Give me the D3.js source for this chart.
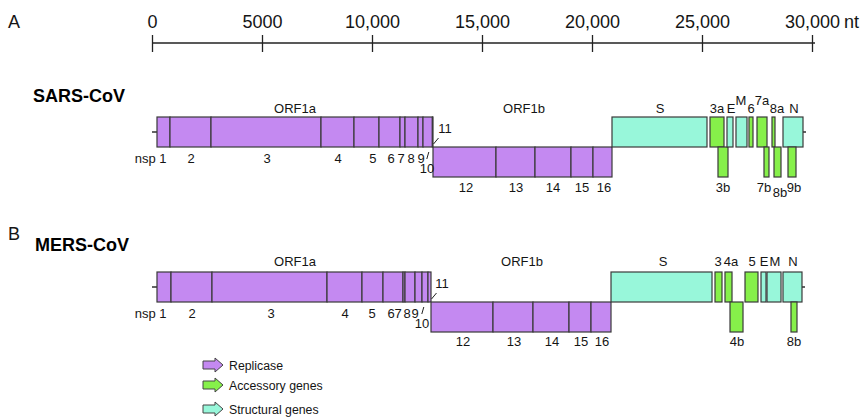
<!DOCTYPE html>
<html><head><meta charset="utf-8">
<script src="https://cdn.jsdelivr.net/npm/d3@7"></script>
<style>
body{margin:0;background:#fff}
svg{display:block;font-family:"Liberation Sans",Arial,Helvetica,sans-serif}
</style>
</head><body>
<svg id="chart" width="863" height="417"></svg>
<script>
// ---------- data (nucleotide coordinates) ----------
const tickValues = [0, 5000, 10000, 15000, 20000, 25000, 30000];
const tickLabels = ["0", "5000", "10,000", "15,000", "20,000", "25,000", "30,000"];
const axisUnit = "nt";

// [nsp, start, end, labelAt]
const sarsORF1a = [
  ["1", 227, 818, 500], ["2", 818, 2682, 1773], ["3", 2682, 7682, 5227],
  ["4", 7682, 9182, 8455], ["5", 9182, 10318, 10045], ["6", 10318, 11273, 10864],
  ["7", 11273, 11500, 11318], ["8", 11500, 12091, 11773], ["9", 12091, 12318, 12227],
  ["10", 12318, 12745, 12500], ["11", 12745, 12773, 13318]
];
const sarsORF1b = [
  ["12", 12773, 15636, 14273], ["13", 15636, 17409, 16545], ["14", 17409, 19045, 18227],
  ["15", 19045, 20045, 19545], ["16", 20045, 20909, 20545]
];
// [gene, start, end, kind, row(0 upper / 1 lower), labelAt, labelShift]
const sarsGenes = [
  ["S", 20909, 25227, "structural", 0, 23091, 0],
  ["3a", 25364, 26000, "accessory", 0, 25682, 0],
  ["3b", 25727, 26182, "accessory", 1, 25955, 0],
  ["E", 26136, 26409, "structural", 0, 26318, 0],
  ["M", 26545, 27045, "structural", 0, 26773, -1],
  ["6", 27136, 27318, "accessory", 0, 27227, 0],
  ["7a", 27500, 27955, "accessory", 0, 27727, -1],
  ["7b", 27818, 28045, "accessory", 1, 27818, 0],
  ["8a", 28182, 28318, "accessory", 0, 28409, 0],
  ["8b", 28273, 28591, "accessory", 1, 28545, 1],
  ["N", 28682, 29591, "structural", 0, 29182, 0],
  ["9b", 28909, 29273, "accessory", 1, 29182, 0]
];
const sarsGenomeEnd = 29727;
const sarsORFLabels = [["ORF1a", 6500], ["ORF1b", 16909]];

const mersORF1a = [
  ["1", 227, 864, 500], ["2", 864, 2727, 1818], ["3", 2727, 7955, 5409],
  ["4", 7955, 9545, 8773], ["5", 9545, 10500, 10000], ["6", 10500, 11409, 10864],
  ["7", 11409, 11500, 11182], ["8", 11500, 11955, 11591], ["9", 11955, 12273, 11955],
  ["10", 12273, 12545, 12273], ["11", 12545, 12682, 13182]
];
const mersORF1b = [
  ["12", 12682, 15500, 14136], ["13", 15500, 17318, 16455], ["14", 17318, 18955, 18182],
  ["15", 18955, 19955, 19500], ["16", 19955, 20864, 20455]
];
const mersGenes = [
  ["S", 20864, 25455, "structural", 0, 23227, 0],
  ["3", 25591, 25909, "accessory", 0, 25727, 0],
  ["4a", 26045, 26364, "accessory", 0, 26318, 0],
  ["4b", 26273, 26864, "accessory", 1, 26591, 0],
  ["5", 26955, 27545, "accessory", 0, 27273, 0],
  ["E", 27682, 27909, "structural", 0, 27818, 0],
  ["M", 27955, 28591, "structural", 0, 28318, 0],
  ["N", 28682, 29545, "structural", 0, 29136, 0],
  ["8b", 29045, 29318, "accessory", 1, 29182, 0]
];
const mersGenomeEnd = 29682;
const mersORFLabels = [["ORF1a", 6500], ["ORF1b", 16818]];

const legendKinds = ["replicase", "accessory", "structural"];
const legendLabels = ["Replicase", "Accessory genes", "Structural genes"];

// ---------- drawing ----------
const svg = d3.select("#chart");
const x = d3.scaleLinear().domain([0, 30000]).range([152, 812]);
const color = d3.scaleOrdinal()
  .domain(["replicase", "accessory", "structural"])
  .range(["#c489f1", "#86f04a", "#98f7da"]);
const STROKE = "#3a3a3a";
const TXT = "#151515";

// panel letters
svg.append("text").attr("x", 8).attr("y", 28).attr("font-size", 18).attr("fill", TXT).text("A");
svg.append("text").attr("x", 8).attr("y", 240).attr("font-size", 18).attr("fill", TXT).text("B");

// scale axis
const axis = d3.axisTop(x).tickValues(tickValues)
  .tickFormat((d, i) => tickLabels[i])
  .tickSizeInner(-17).tickSizeOuter(0).tickPadding(7);
const ag = svg.append("g").attr("transform", "translate(0,35)").call(axis);
ag.select(".domain").remove();
ag.selectAll(".tick line").attr("stroke", "#222").attr("stroke-width", 1.3);
ag.selectAll(".tick text").attr("font-size", 18).attr("fill", TXT)
  .attr("font-family", '"Liberation Sans",Arial,sans-serif');
svg.append("line").attr("x1", x(0)).attr("x2", x(30000) + 3)
  .attr("y1", 43).attr("y2", 43).attr("stroke", "#222").attr("stroke-width", 1.6);
svg.append("text").attr("x", x(30000) + 32).attr("y", 28).attr("font-size", 18)
  .attr("fill", TXT).text(axisUnit);

function drawGenome(cfg) {
  const g = svg.append("g");
  const top = cfg.top, h = 30;
  g.append("text").attr("x", cfg.titleX).attr("y", cfg.titleY)
    .attr("font-size", 18).attr("font-weight", "bold").attr("fill", "#000").text(cfg.title);

  // 5' and 3' UTR lines
  g.append("line").attr("x1", x(0)).attr("x2", x(cfg.orf1a[0][1]))
    .attr("y1", top + h / 2).attr("y2", top + h / 2).attr("stroke", "#222").attr("stroke-width", 1.4);
  const lastUpper = d3.max(cfg.genes.filter(d => d[4] === 0), d => d[2]);
  g.append("line").attr("x1", x(lastUpper)).attr("x2", x(cfg.end))
    .attr("y1", top + h / 2).attr("y2", top + h / 2).attr("stroke", "#222").attr("stroke-width", 1.4);

  const boxStyle = s => s.attr("stroke", STROKE).attr("stroke-width", 1.2);

  // ORF1a nsps (upper)
  g.selectAll(".a").data(cfg.orf1a).join("rect")
    .attr("x", d => x(d[1])).attr("width", d => Math.max(0.6, x(d[2]) - x(d[1])))
    .attr("y", top).attr("height", h).attr("fill", color("replicase")).call(boxStyle);
  // ORF1b nsps (lower)
  g.selectAll(".b").data(cfg.orf1b).join("rect")
    .attr("x", d => x(d[1])).attr("width", d => x(d[2]) - x(d[1]))
    .attr("y", top + h).attr("height", h).attr("fill", color("replicase")).call(boxStyle);
  // other genes
  g.selectAll(".gene").data(cfg.genes).join("rect")
    .attr("x", d => x(d[1])).attr("width", d => x(d[2]) - x(d[1]))
    .attr("y", d => top + d[4] * h).attr("height", h)
    .attr("fill", d => color(d[3])).call(boxStyle);

  const lab = (sel) => sel.attr("font-size", 13).attr("fill", TXT).attr("text-anchor", "middle");

  // ORF labels
  g.selectAll(".orf").data(cfg.orfLabels).join("text")
    .attr("x", d => x(d[1])).attr("y", top - cfg.upGap).call(lab).text(d => d[0]);

  // nsp labels ORF1a
  cfg.orf1a.forEach((d, i) => {
    if (d[0] === "1") {
      g.append("text").attr("x", x(d[3]) + 3.6).attr("y", top + 46).call(lab)
        .attr("text-anchor", "end").text("nsp 1");
    } else if (d[0] === "10") {
      g.append("text").attr("x", x(d[3])).attr("y", top + 56).call(lab).text(d[0]);
      g.append("line").attr("x1", x(d[3]) + 1.8).attr("x2", x(d[3]) - 0.2)
        .attr("y1", top + 35).attr("y2", top + 42).attr("stroke", "#222").attr("stroke-width", 1);
    } else if (d[0] === "11") {
      g.append("text").attr("x", x(d[3])).attr("y", top + 16).call(lab).text(d[0]);
      g.append("line").attr("x1", x(d[2]) + 0.5).attr("x2", x(d[2]) + 5.5)
        .attr("y1", top + 27).attr("y2", top + 21).attr("stroke", "#222").attr("stroke-width", 1);
    } else {
      g.append("text").attr("x", x(d[3])).attr("y", top + 46).call(lab).text(d[0]);
    }
  });
  // nsp labels ORF1b
  g.selectAll(".bl").data(cfg.orf1b).join("text")
    .attr("x", d => x(d[3])).attr("y", top + 2 * h + cfg.lowGap).call(lab).text(d => d[0]);
  // gene labels
  g.selectAll(".gl").data(cfg.genes).join("text")
    .attr("x", d => x(d[5]))
    .attr("y", d => d[4] === 0 ? top - cfg.upGap + d[6] * 8 : top + 2 * h + cfg.lowGap + d[6] * 5)
    .call(lab).text(d => d[0]);
}

drawGenome({
  title: "SARS-CoV", titleX: 33, titleY: 102, top: 117, upGap: 4, lowGap: 15,
  orf1a: sarsORF1a, orf1b: sarsORF1b, genes: sarsGenes, end: sarsGenomeEnd, orfLabels: sarsORFLabels
});
drawGenome({
  title: "MERS-CoV", titleX: 35, titleY: 251, top: 272, upGap: 6, lowGap: 14,
  orf1a: mersORF1a, orf1b: mersORF1b, genes: mersGenes, end: mersGenomeEnd, orfLabels: mersORFLabels
});

// legend
const legendY = [365, 385, 409];
const lg = svg.append("g");
legendKinds.forEach((k, i) => {
  const y0 = legendY[i], x0 = 203;
  const pts = [[x0, y0 - 4], [x0 + 12, y0 - 4], [x0 + 12, y0 - 7], [x0 + 20, y0],
               [x0 + 12, y0 + 7], [x0 + 12, y0 + 4], [x0, y0 + 4]];
  lg.append("polygon").attr("points", pts.map(p => p.join(",")).join(" "))
    .attr("fill", color(k)).attr("stroke", "#444").attr("stroke-width", 1);
  lg.append("text").attr("x", 229).attr("y", y0 + 4.5).attr("font-size", 12.3)
    .attr("fill", TXT).text(legendLabels[i]);
});
</script>
</body></html>
